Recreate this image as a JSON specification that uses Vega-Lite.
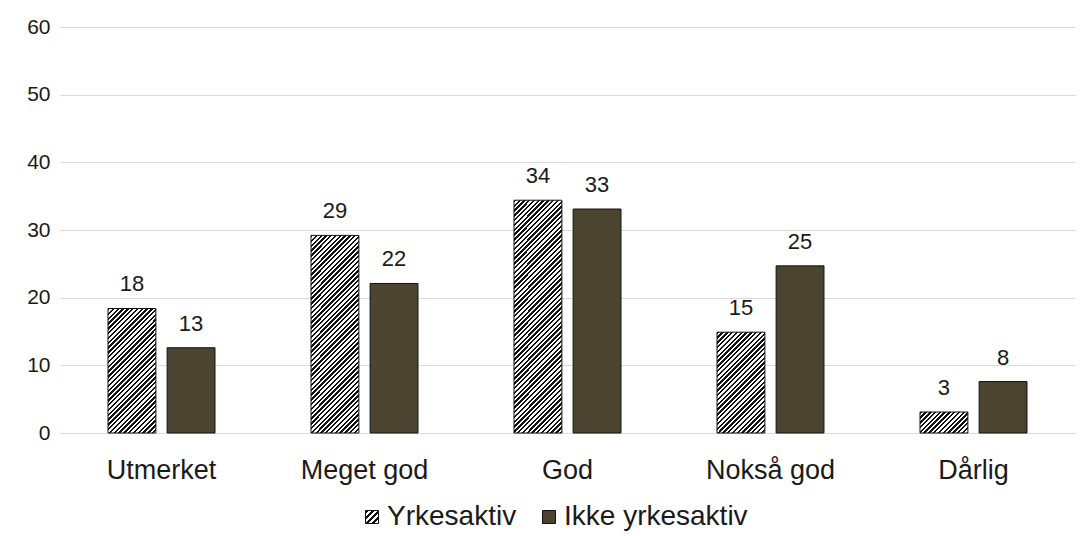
{
  "$schema": "https://vega.github.io/schema/vega-lite/v6.json",
  "width": 1015,
  "height": 406,
  "autosize": {"type": "none"},
  "padding": {"left": 60, "top": 27, "right": 10, "bottom": 103},
  "background": "white",
  "params": [
    {"name": "hatch", "value": [
      {"offset":0,"color":"#111"},{"offset":0.005,"color":"#111"},{"offset":0.005,"color":"#fff"},{"offset":0.01,"color":"#fff"},
      {"offset":0.01,"color":"#111"},{"offset":0.015,"color":"#111"},{"offset":0.015,"color":"#fff"},{"offset":0.02,"color":"#fff"},
      {"offset":0.02,"color":"#111"},{"offset":0.025,"color":"#111"},{"offset":0.025,"color":"#fff"},{"offset":0.03,"color":"#fff"},
      {"offset":0.03,"color":"#111"},{"offset":0.035,"color":"#111"},{"offset":0.035,"color":"#fff"},{"offset":0.04,"color":"#fff"},
      {"offset":0.04,"color":"#111"},{"offset":0.045,"color":"#111"},{"offset":0.045,"color":"#fff"},{"offset":0.05,"color":"#fff"},
      {"offset":0.05,"color":"#111"},{"offset":0.055,"color":"#111"},{"offset":0.055,"color":"#fff"},{"offset":0.06,"color":"#fff"},
      {"offset":0.06,"color":"#111"},{"offset":0.065,"color":"#111"},{"offset":0.065,"color":"#fff"},{"offset":0.07,"color":"#fff"},
      {"offset":0.07,"color":"#111"},{"offset":0.075,"color":"#111"},{"offset":0.075,"color":"#fff"},{"offset":0.08,"color":"#fff"},
      {"offset":0.08,"color":"#111"},{"offset":0.085,"color":"#111"},{"offset":0.085,"color":"#fff"},{"offset":0.09,"color":"#fff"},
      {"offset":0.09,"color":"#111"},{"offset":0.095,"color":"#111"},{"offset":0.095,"color":"#fff"},{"offset":0.1,"color":"#fff"},
      {"offset":0.1,"color":"#111"},{"offset":0.105,"color":"#111"},{"offset":0.105,"color":"#fff"},{"offset":0.11,"color":"#fff"},
      {"offset":0.11,"color":"#111"},{"offset":0.115,"color":"#111"},{"offset":0.115,"color":"#fff"},{"offset":0.12,"color":"#fff"},
      {"offset":0.12,"color":"#111"},{"offset":0.125,"color":"#111"},{"offset":0.125,"color":"#fff"},{"offset":0.13,"color":"#fff"},
      {"offset":0.13,"color":"#111"},{"offset":0.135,"color":"#111"},{"offset":0.135,"color":"#fff"},{"offset":0.14,"color":"#fff"},
      {"offset":0.14,"color":"#111"},{"offset":0.145,"color":"#111"},{"offset":0.145,"color":"#fff"},{"offset":0.15,"color":"#fff"},
      {"offset":0.15,"color":"#111"},{"offset":0.155,"color":"#111"},{"offset":0.155,"color":"#fff"},{"offset":0.16,"color":"#fff"},
      {"offset":0.16,"color":"#111"},{"offset":0.165,"color":"#111"},{"offset":0.165,"color":"#fff"},{"offset":0.17,"color":"#fff"},
      {"offset":0.17,"color":"#111"},{"offset":0.175,"color":"#111"},{"offset":0.175,"color":"#fff"},{"offset":0.18,"color":"#fff"},
      {"offset":0.18,"color":"#111"},{"offset":0.185,"color":"#111"},{"offset":0.185,"color":"#fff"},{"offset":0.19,"color":"#fff"},
      {"offset":0.19,"color":"#111"},{"offset":0.195,"color":"#111"},{"offset":0.195,"color":"#fff"},{"offset":0.2,"color":"#fff"},
      {"offset":0.2,"color":"#111"},{"offset":0.205,"color":"#111"},{"offset":0.205,"color":"#fff"},{"offset":0.21,"color":"#fff"},
      {"offset":0.21,"color":"#111"},{"offset":0.215,"color":"#111"},{"offset":0.215,"color":"#fff"},{"offset":0.22,"color":"#fff"},
      {"offset":0.22,"color":"#111"},{"offset":0.225,"color":"#111"},{"offset":0.225,"color":"#fff"},{"offset":0.23,"color":"#fff"},
      {"offset":0.23,"color":"#111"},{"offset":0.235,"color":"#111"},{"offset":0.235,"color":"#fff"},{"offset":0.24,"color":"#fff"},
      {"offset":0.24,"color":"#111"},{"offset":0.245,"color":"#111"},{"offset":0.245,"color":"#fff"},{"offset":0.25,"color":"#fff"},
      {"offset":0.25,"color":"#111"},{"offset":0.255,"color":"#111"},{"offset":0.255,"color":"#fff"},{"offset":0.26,"color":"#fff"},
      {"offset":0.26,"color":"#111"},{"offset":0.265,"color":"#111"},{"offset":0.265,"color":"#fff"},{"offset":0.27,"color":"#fff"},
      {"offset":0.27,"color":"#111"},{"offset":0.275,"color":"#111"},{"offset":0.275,"color":"#fff"},{"offset":0.28,"color":"#fff"},
      {"offset":0.28,"color":"#111"},{"offset":0.285,"color":"#111"},{"offset":0.285,"color":"#fff"},{"offset":0.29,"color":"#fff"},
      {"offset":0.29,"color":"#111"},{"offset":0.295,"color":"#111"},{"offset":0.295,"color":"#fff"},{"offset":0.3,"color":"#fff"},
      {"offset":0.3,"color":"#111"},{"offset":0.305,"color":"#111"},{"offset":0.305,"color":"#fff"},{"offset":0.31,"color":"#fff"},
      {"offset":0.31,"color":"#111"},{"offset":0.315,"color":"#111"},{"offset":0.315,"color":"#fff"},{"offset":0.32,"color":"#fff"},
      {"offset":0.32,"color":"#111"},{"offset":0.325,"color":"#111"},{"offset":0.325,"color":"#fff"},{"offset":0.33,"color":"#fff"},
      {"offset":0.33,"color":"#111"},{"offset":0.335,"color":"#111"},{"offset":0.335,"color":"#fff"},{"offset":0.34,"color":"#fff"},
      {"offset":0.34,"color":"#111"},{"offset":0.345,"color":"#111"},{"offset":0.345,"color":"#fff"},{"offset":0.35,"color":"#fff"},
      {"offset":0.35,"color":"#111"},{"offset":0.355,"color":"#111"},{"offset":0.355,"color":"#fff"},{"offset":0.36,"color":"#fff"},
      {"offset":0.36,"color":"#111"},{"offset":0.365,"color":"#111"},{"offset":0.365,"color":"#fff"},{"offset":0.37,"color":"#fff"},
      {"offset":0.37,"color":"#111"},{"offset":0.375,"color":"#111"},{"offset":0.375,"color":"#fff"},{"offset":0.38,"color":"#fff"},
      {"offset":0.38,"color":"#111"},{"offset":0.385,"color":"#111"},{"offset":0.385,"color":"#fff"},{"offset":0.39,"color":"#fff"},
      {"offset":0.39,"color":"#111"},{"offset":0.395,"color":"#111"},{"offset":0.395,"color":"#fff"},{"offset":0.4,"color":"#fff"},
      {"offset":0.4,"color":"#111"},{"offset":0.405,"color":"#111"},{"offset":0.405,"color":"#fff"},{"offset":0.41,"color":"#fff"},
      {"offset":0.41,"color":"#111"},{"offset":0.415,"color":"#111"},{"offset":0.415,"color":"#fff"},{"offset":0.42,"color":"#fff"},
      {"offset":0.42,"color":"#111"},{"offset":0.425,"color":"#111"},{"offset":0.425,"color":"#fff"},{"offset":0.43,"color":"#fff"},
      {"offset":0.43,"color":"#111"},{"offset":0.435,"color":"#111"},{"offset":0.435,"color":"#fff"},{"offset":0.44,"color":"#fff"},
      {"offset":0.44,"color":"#111"},{"offset":0.445,"color":"#111"},{"offset":0.445,"color":"#fff"},{"offset":0.45,"color":"#fff"},
      {"offset":0.45,"color":"#111"},{"offset":0.455,"color":"#111"},{"offset":0.455,"color":"#fff"},{"offset":0.46,"color":"#fff"},
      {"offset":0.46,"color":"#111"},{"offset":0.465,"color":"#111"},{"offset":0.465,"color":"#fff"},{"offset":0.47,"color":"#fff"},
      {"offset":0.47,"color":"#111"},{"offset":0.475,"color":"#111"},{"offset":0.475,"color":"#fff"},{"offset":0.48,"color":"#fff"},
      {"offset":0.48,"color":"#111"},{"offset":0.485,"color":"#111"},{"offset":0.485,"color":"#fff"},{"offset":0.49,"color":"#fff"},
      {"offset":0.49,"color":"#111"},{"offset":0.495,"color":"#111"},{"offset":0.495,"color":"#fff"},{"offset":0.5,"color":"#fff"},
      {"offset":0.5,"color":"#111"},{"offset":0.505,"color":"#111"},{"offset":0.505,"color":"#fff"},{"offset":0.51,"color":"#fff"},
      {"offset":0.51,"color":"#111"},{"offset":0.515,"color":"#111"},{"offset":0.515,"color":"#fff"},{"offset":0.52,"color":"#fff"},
      {"offset":0.52,"color":"#111"},{"offset":0.525,"color":"#111"},{"offset":0.525,"color":"#fff"},{"offset":0.53,"color":"#fff"},
      {"offset":0.53,"color":"#111"},{"offset":0.535,"color":"#111"},{"offset":0.535,"color":"#fff"},{"offset":0.54,"color":"#fff"},
      {"offset":0.54,"color":"#111"},{"offset":0.545,"color":"#111"},{"offset":0.545,"color":"#fff"},{"offset":0.55,"color":"#fff"},
      {"offset":0.55,"color":"#111"},{"offset":0.555,"color":"#111"},{"offset":0.555,"color":"#fff"},{"offset":0.56,"color":"#fff"},
      {"offset":0.56,"color":"#111"},{"offset":0.565,"color":"#111"},{"offset":0.565,"color":"#fff"},{"offset":0.57,"color":"#fff"},
      {"offset":0.57,"color":"#111"},{"offset":0.575,"color":"#111"},{"offset":0.575,"color":"#fff"},{"offset":0.58,"color":"#fff"},
      {"offset":0.58,"color":"#111"},{"offset":0.585,"color":"#111"},{"offset":0.585,"color":"#fff"},{"offset":0.59,"color":"#fff"},
      {"offset":0.59,"color":"#111"},{"offset":0.595,"color":"#111"},{"offset":0.595,"color":"#fff"},{"offset":0.6,"color":"#fff"}
    ]}
  ],
  "data": {"values": [
    {"cat": "Utmerket", "group": "Yrkesaktiv", "v": 18.4},
    {"cat": "Utmerket", "group": "Ikke yrkesaktiv", "v": 12.6},
    {"cat": "Meget god", "group": "Yrkesaktiv", "v": 29.2},
    {"cat": "Meget god", "group": "Ikke yrkesaktiv", "v": 22.1},
    {"cat": "God", "group": "Yrkesaktiv", "v": 34.4},
    {"cat": "God", "group": "Ikke yrkesaktiv", "v": 33.1},
    {"cat": "Nokså god", "group": "Yrkesaktiv", "v": 14.9},
    {"cat": "Nokså god", "group": "Ikke yrkesaktiv", "v": 24.7},
    {"cat": "Dårlig", "group": "Yrkesaktiv", "v": 3.1},
    {"cat": "Dårlig", "group": "Ikke yrkesaktiv", "v": 7.6}
  ]},
  "encoding": {
    "x": {
      "field": "cat", "type": "nominal", "sort": null,
      "scale": {"paddingInner": 0.473, "paddingOuter": 0.2365},
      "axis": {
        "title": null, "labelAngle": 0, "labelFontSize": 27, "labelFont": "Liberation Sans",
        "labelColor": "#1a1a1a", "labelBaseline": "alphabetic", "labelPadding": 45,
        "ticks": false, "tickSize": 0, "domainColor": "#d9d9d9", "domainWidth": 1, "grid": false
      }
    },
    "xOffset": {
      "field": "group", "type": "nominal", "sort": ["Yrkesaktiv", "Ikke yrkesaktiv"],
      "scale": {"paddingInner": 0.19, "paddingOuter": 0}
    },
    "y": {
      "field": "v", "type": "quantitative",
      "scale": {"domain": [0, 60], "nice": false},
      "axis": {
        "title": null, "values": [0, 10, 20, 30, 40, 50, 60], "domain": false, "ticks": false, "tickSize": 0,
        "labelPadding": 10, "labelFontSize": 21, "labelFont": "Liberation Sans", "labelColor": "#1a1a1a",
        "grid": true, "gridColor": "#d9d9d9", "gridWidth": 1
      }
    }
  },
  "layer": [
    {
      "mark": {"type": "bar", "stroke": "#111", "strokeWidth": 1},
      "encoding": {
        "fill": {
          "field": "group", "type": "nominal",
          "scale": {
            "domain": ["Yrkesaktiv", "Ikke yrkesaktiv"],
            "range": [{"expr": "{'gradient':'linear','x1':0,'y1':0,'x2':23.1,'y2':23.1,'stops':hatch}"}, "#4a4430"]
          },
          "condition": [
            {"test": "datum.group === 'Yrkesaktiv' && datum.cat === 'Utmerket'", "value": {"expr": "{'gradient':'linear','x1':0,'y1':0,'x2':1.294,'y2':3.357,'stops':hatch}"}},
            {"test": "datum.group === 'Yrkesaktiv' && datum.cat === 'Meget god'", "value": {"expr": "{'gradient':'linear','x1':0,'y1':0,'x2':0.557,'y2':2.294,'stops':hatch}"}},
            {"test": "datum.group === 'Yrkesaktiv' && datum.cat === 'God'", "value": {"expr": "{'gradient':'linear','x1':0,'y1':0,'x2':0.408,'y2':1.978,'stops':hatch}"}},
            {"test": "datum.group === 'Yrkesaktiv' && datum.cat === 'Nokså god'", "value": {"expr": "{'gradient':'linear','x1':0,'y1':0,'x2':1.848,'y2':3.882,'stops':hatch}"}},
            {"test": "datum.group === 'Yrkesaktiv' && datum.cat === 'Dårlig'", "value": {"expr": "{'gradient':'linear','x1':0,'y1':0,'x2':8.393,'y2':3.672,'stops':hatch}"}}
          ],
          "legend": {
            "orient": "none", "legendX": 298, "legendY": 476, "direction": "horizontal", "columns": 2,
            "title": null, "padding": 0,
            "labelFontSize": 28, "labelFont": "Liberation Sans", "labelColor": "#1a1a1a", "labelLimit": 400,
            "symbolType": "square", "symbolSize": 169, "symbolStrokeColor": "#111", "symbolStrokeWidth": 1,
            "symbolOpacity": 1,
            "labelOffset": 1, "columnPadding": 18
          }
        }
      }
    },
    {
      "mark": {"type": "text", "dy": -17, "baseline": "alphabetic", "fontSize": 22, "font": "Liberation Sans", "color": "#1a1a1a"},
      "encoding": {
        "text": {"field": "v", "type": "quantitative", "format": ".0f"}
      }
    }
  ],
  "config": {
    "view": {"stroke": null},
    "font": "Liberation Sans"
  }
}
